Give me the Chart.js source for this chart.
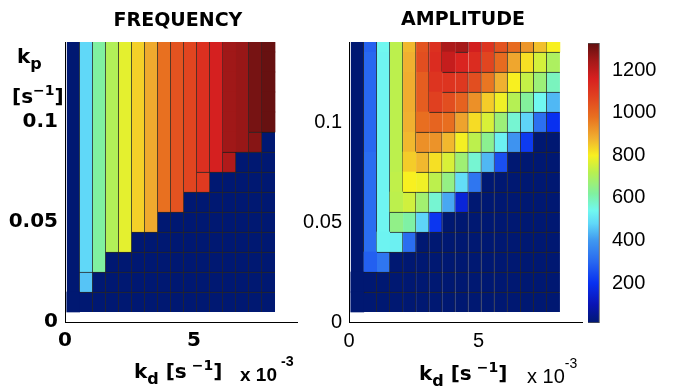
<!DOCTYPE html>
<html>
<head>
<meta charset="utf-8">
<script src="https://cdn.jsdelivr.net/npm/chart.js@4.4.1/dist/chart.umd.min.js"></script>
<style>
  body { margin:0; background:#fff; width:678px; height:392px; overflow:hidden; position:relative; font-family:"DejaVu Sans", sans-serif; }
  canvas { position:absolute; top:0; }
  .t { position:absolute; white-space:nowrap; color:#000; font-weight:bold; font-size:20px; line-height:20px; }
  .r { font-family:"Liberation Sans", Arial, sans-serif; }
  .n { font-weight:normal; }
  .sub { font-size:0.8em; position:relative; top:0.35em; }
  .sup { font-size:0.7em; position:relative; top:-0.6em; }
</style>
</head>
<body>
<canvas id="freq" width="340" height="392" style="left:0"></canvas>
<canvas id="amp" width="330" height="392" style="left:284px"></canvas>
<canvas id="cbar" width="118" height="392" style="left:560px"></canvas>

<div class="t" style="left:0;width:356px;text-align:center;top:9px;font-size:19px">FREQUENCY</div>
<div class="t" style="left:363px;width:200px;text-align:center;top:8px;font-size:19px">AMPLITUDE</div>

<div class="t" style="left:17px;top:46px">k<span class="sub">p</span></div>
<div class="t" style="left:12px;top:86px">[s<span class="sup">&minus;1</span>]</div>

<div class="t" style="left:134px;top:361px">k<span class="sub">d</span> [s<span class="sup"> &minus;1</span>]</div>
<div class="t r" style="left:240px;top:365px;font-size:19px">x 10<span class="sup" style="font-size:0.75em;top:-1.05em;margin-left:4px">-3</span></div>

<div class="t" style="left:419px;top:363px">k<span class="sub">d</span> [s<span class="sup"> &minus;1</span>]</div>
<div class="t r n" style="left:527px;top:366px;font-size:20px">x 10<span class="sup" style="font-size:0.7em;top:-1.05em">-3</span></div>

<script>
// grid of the simulation, kd in units of 1e-3 s^-1
const kd = [0.32, 0.825, 1.33, 1.835, 2.34, 2.845, 3.35, 3.855, 4.36, 4.865, 5.37, 5.875, 6.38, 6.885, 7.39, 7.895]
const kp = [0.01, 0.02, 0.03, 0.04, 0.05, 0.06, 0.07, 0.08, 0.09, 0.10, 0.11, 0.12, 0.13, 0.14]

const kdTicks = [0, 5]
const kpTicks = [0, 0.05, 0.1]
const cbarTicks = [200, 400, 600, 800, 1000, 1200]

// rows from kp=0.01 (bottom) to kp=0.14 (top)
const frequency = [
  [0,   0,   0,   0,   0,   0,   0,   0,    0,    0,    0,    0,    0,    0,    0,    0],
  [0, 455,   0,   0,   0,   0,   0,   0,    0,    0,    0,    0,    0,    0,    0,    0],
  [0, 480, 620,   0,   0,   0,   0,   0,    0,    0,    0,    0,    0,    0,    0,    0],
  [0, 480, 620, 710, 775,   0,   0,   0,    0,    0,    0,    0,    0,    0,    0,    0],
  [0, 480, 620, 710, 775, 840, 890,   0,    0,    0,    0,    0,    0,    0,    0,    0],
  [0, 480, 620, 710, 775, 840, 890, 980, 1040,    0,    0,    0,    0,    0,    0,    0],
  [0, 480, 620, 710, 775, 840, 890, 980, 1040, 1070, 1095,    0,    0,    0,    0,    0],
  [0, 480, 620, 710, 775, 840, 890, 980, 1040, 1070, 1120, 1165, 1225,    0,    0,    0],
  [0, 480, 620, 710, 775, 840, 890, 980, 1040, 1070, 1120, 1165, 1250, 1260, 1280,    0],
  [0, 480, 620, 710, 775, 840, 890, 980, 1040, 1070, 1120, 1165, 1250, 1260, 1300, 1320],
  [0, 480, 620, 710, 775, 840, 890, 980, 1040, 1070, 1120, 1165, 1250, 1260, 1300, 1320],
  [0, 480, 620, 710, 775, 840, 890, 980, 1040, 1070, 1120, 1165, 1250, 1260, 1300, 1320],
  [0, 480, 620, 710, 775, 840, 890, 980, 1040, 1070, 1120, 1165, 1250, 1260, 1300, 1320],
  [0, 480, 620, 710, 775, 840, 890, 980, 1040, 1070, 1120, 1165, 1250, 1260, 1300, 1320]
]

const amplitude = [
  [0,   0,   0,   0,   0,    0,    0,    0,    0,    0,    0,   0,   0,   0,   0,   0],
  [0,   0,   0,   0,   0,    0,    0,    0,    0,    0,    0,   0,   0,   0,   0,   0],
  [0, 285, 330,   0,   0,    0,    0,    0,    0,    0,    0,   0,   0,   0,   0,   0],
  [0, 310, 530, 525, 310,    0,    0,    0,    0,    0,    0,   0,   0,   0,   0,   0],
  [0, 310, 535, 650, 615,  475,  210,    0,    0,    0,    0,   0,   0,   0,   0,   0],
  [0, 310, 535, 725, 750,  680,  570,  420,  160,    0,    0,   0,   0,   0,   0,   0],
  [0, 310, 535, 730, 800,  790,  725,  655,  490,  330,    0,   0,   0,   0,   0,   0],
  [0, 310, 535, 725, 845,  870,  820,  760,  675,  570,  440, 255,   0,   0,   0,   0],
  [0, 300, 535, 725, 870,  930,  925,  870,  795,  725,  640, 525, 390, 220,   0,   0],
  [0, 300, 535, 725, 880,  985, 1005,  985,  900,  825,  760, 670, 570, 475, 315, 200],
  [0, 300, 535, 725, 885, 1020, 1080, 1050, 1010,  930,  845, 790, 715, 625, 540, 440],
  [0, 300, 535, 725, 885, 1020, 1110, 1110, 1100, 1050,  970, 880, 800, 735, 670, 590],
  [0, 300, 535, 725, 880, 1050, 1130, 1190, 1150, 1130, 1070, 990, 895, 820, 755, 700],
  [0, 290, 540, 725, 870, 1040, 1120, 1230, 1240, 1170, 1110, 1040, 990, 920, 860, 800]
]

const cmin = 12.5, cmax = 1328
const kdMax = 9, kpMax = 0.14

// colour map
const cmap = [
  [12.5, '#001872'], [100, '#0a14b4'], [200, '#0830f0'], [300, '#2868f0'], [400, '#4098f0'],
  [480, '#60d8f8'], [540, '#70f8f0'], [620, '#80f0a0'], [720, '#b8f050'], [800, '#f8f020'],
  [880, '#f0b030'], [980, '#e87020'], [1080, '#e04020'], [1160, '#d82020'], [1250, '#a01818'],
  [1328, '#601010']
]

function hexRgb(h){ return [1,3,5].map(i=>parseInt(h.substr(i,2),16)) }
function colorFor(v){
  if(v <= cmap[0][0]) return cmap[0][1]
  for(let i=1;i<cmap.length;i++){
    if(v <= cmap[i][0]){
      const [v0,c0] = cmap[i-1], [v1,c1] = cmap[i]
      const f = (v-v0)/(v1-v0), a = hexRgb(c0), b = hexRgb(c1)
      return `rgb(${a.map((x,k)=>Math.round(x+(b[k]-x)*f)).join(',')})`
    }
  }
  return cmap[cmap.length-1][1]
}

// black cell edges: between cells that differ enough, and across the empty (zero) region
function edge(m, step, r1, c1, r2, c2){
  const a = m[r1][c1], b = m[r2][c2]
  if(a === 0 && b === 0) return c1 > 0 && c2 > 0
  return Math.abs(a-b) >= step
}

function heatDatasets(m, step){
  return kp.map((p, r) => ({
    data: kd.map((d, c) => ({ x: d, y: [p - 0.005, Math.min(p + 0.005, kpMax)], v: m[r][c], r, c })),
    backgroundColor: ctx => ctx.raw ? colorFor(ctx.raw.v) : '#000',
    borderColor: 'rgba(0,0,0,0.85)',
    borderWidth: ctx => {
      if(!ctx.raw) return 0
      const {r, c} = ctx.raw
      return {
        top: r < kp.length-1 && edge(m, step, r, c, r+1, c) ? 1 : 0,
        right: c < kd.length-1 && edge(m, step, r, c, r, c+1) ? 1 : 0,
        bottom: 0, left: 0
      }
    },
    borderSkipped: false,
    barPercentage: 1,
    categoryPercentage: 1,
    grouped: false
  }))
}

const plain = v => String(v)

function heatOptions(font, padRight){
  return {
    responsive: false,
    animation: false,
    layout: { padding: { left: 0, top: 42, right: padRight, bottom: 0 } },
    plugins: { legend: { display: false }, tooltip: { enabled: false } },
    scales: {
      x: {
        type: 'linear', min: 0, max: kdMax, offset: false,
        grid: { display: false, drawTicks: false },
        border: { display: true, color: '#000', width: 1 },
        ticks: { font, color: '#000', padding: 7, callback: plain },
        afterBuildTicks: s => { s.ticks = kdTicks.map(v => ({ value: v })) },
        afterFit: s => { s.height = 70 }
      },
      y: {
        type: 'linear', min: 0, max: kpMax,
        grid: { display: false, drawTicks: false },
        border: { display: true, color: '#000', width: 1 },
        ticks: { font, color: '#000', padding: 7, callback: plain },
        afterBuildTicks: s => { s.ticks = kpTicks.map(v => ({ value: v })) },
        afterFit: s => { s.width = 65 }
      }
    }
  }
}

try {
  new Chart(document.getElementById('freq'), {
    type: 'bar',
    data: { datasets: heatDatasets(frequency, 15) },
    options: heatOptions({ family: 'DejaVu Sans', weight: 'bold', size: 20 }, 43)
  })

  new Chart(document.getElementById('amp'), {
    type: 'bar',
    data: { datasets: heatDatasets(amplitude, 50) },
    options: heatOptions({ family: 'Liberation Sans', size: 20 }, 32)
  })

  // colour bar
  new Chart(document.getElementById('cbar'), {
    type: 'bar',
    data: {
      labels: [''],
      datasets: [{
        data: [[cmin, cmax]],
        backgroundColor: ctx => {
          const ch = ctx.chart
          if(!ch.chartArea) return '#888'
          const y = ch.scales.y
          const g = ch.ctx.createLinearGradient(0, y.getPixelForValue(cmin), 0, y.getPixelForValue(cmax))
          cmap.forEach(([v, c]) => g.addColorStop((v-cmin)/(cmax-cmin), c))
          return g
        },
        borderColor: '#555',
        borderWidth: 1,
        borderSkipped: false,
        barPercentage: 1,
        categoryPercentage: 1
      }]
    },
    options: {
      responsive: false,
      animation: false,
      layout: { padding: { left: 28, top: 43, right: 0, bottom: 69 } },
      plugins: { legend: { display: false }, tooltip: { enabled: false } },
      scales: {
        x: { display: false, offset: false },
        y: {
          position: 'right', min: cmin, max: cmax,
          grid: { display: false, drawTicks: false },
          border: { display: false },
          ticks: { font: { family: 'Liberation Sans', size: 20 }, color: '#000', padding: 1, callback: plain },
          afterBuildTicks: s => { s.ticks = cbarTicks.map(v => ({ value: v })) },
          afterFit: s => { s.width = 67 }
        }
      }
    }
  })
} catch(e) {
  console.error('Error drawing charts:', e)
}
</script>
</body>
</html>
